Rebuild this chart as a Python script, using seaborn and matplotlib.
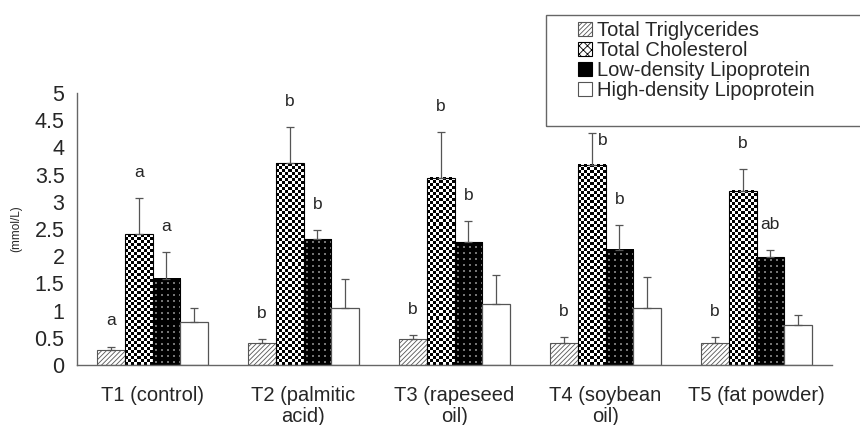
import numpy as np
import pandas as pd
import matplotlib
matplotlib.use("Agg")
import matplotlib.pyplot as plt
import seaborn as sns
from matplotlib.patches import Patch, Rectangle

groups = ["T1 (control)", "T2 (palmitic\nacid)", "T3 (rapeseed\noil)",
          "T4 (soybean\noil)", "T5 (fat powder)"]
components = ["Total Triglycerides", "Total Cholesterol",
              "Low-density Lipoprotein", "High-density Lipoprotein"]

tg_mean = [0.28, 0.41, 0.48, 0.41, 0.41]
tg_sd = [0.06, 0.07, 0.07, 0.11, 0.11]
tc_mean = [2.40, 3.71, 3.44, 3.68, 3.20]
tc_sd = [0.67, 0.66, 0.84, 0.59, 0.40]
ldl_mean = [1.59, 2.31, 2.26, 2.12, 1.98]
ldl_sd = [0.49, 0.17, 0.39, 0.46, 0.14]
hdl_mean = [0.79, 1.05, 1.13, 1.05, 0.74]
hdl_sd = [0.26, 0.54, 0.53, 0.56, 0.18]

tg_letters = ["a", "b", "b", "b", "b"]
tc_letters = ["a", "b", "b", "b", "b"]
ldl_letters = ["a", "b", "b", "b", "ab"]
hdl_letters = ["", "", "", "", ""]

means = [tg_mean, tc_mean, ldl_mean, hdl_mean]
sds = [tg_sd, tc_sd, ldl_sd, hdl_sd]
letters = [tg_letters, tc_letters, ldl_letters, hdl_letters]

rows = []
for comp, m in zip(components, means):
    for g, v in zip(groups, m):
        rows.append({"group": g, "component": comp, "value": v})
df = pd.DataFrame(rows)

sns.set_style("white")
plt.rcParams["font.family"] = ["Liberation Sans", "DejaVu Sans"]
plt.rcParams["hatch.linewidth"] = 0.6

W, H = 860, 425
fig = plt.figure(figsize=(W / 100, H / 100), dpi=100)
ax = fig.add_axes([77 / W, 1 - 365 / H, (832 - 77) / W, (365 - 93) / H])

sns.barplot(data=df, x="group", y="value", hue="component", order=groups,
            hue_order=components, width=0.73, errorbar=None,
            palette=["white", "white", "black", "white"], legend=False, ax=ax)

px_x = (832 - 77) / 5.0   # pixels per category
px_y = (365 - 93) / 5.0   # pixels per mmol/L

bar_conts = list(ax.containers)
for k, cont in enumerate(bar_conts):
    for j, bar in enumerate(cont.patches):
        x0, w, h = bar.get_x(), bar.get_width(), bar.get_height()
        if k == 0:
            bar.set_facecolor("white")
            bar.set_edgecolor("#555555")
            bar.set_hatch("///////")
            bar.set_linewidth(0.8)
        elif k == 1:
            # checkerboard fill
            nx = max(1, int(round(w * px_x / 3)))
            ny = max(1, int(round(h * px_y / 3)))
            ii, jj = np.indices((ny, nx))
            chk = ((ii + jj) % 2).astype(float)
            bar.set_facecolor("none")
            bar.set_edgecolor("black")
            bar.set_linewidth(0.8)
            ax.imshow(chk, extent=(x0, x0 + w, 0, h), origin="lower", cmap="gray",
                      vmin=0, vmax=1, interpolation="nearest", aspect="auto",
                      zorder=0.9, clip_path=bar)
        elif k == 2:
            # black with sparse dots
            nx = max(1, int(round(w * px_x / 2)))
            ny = max(1, int(round(h * px_y / 2)))
            ii, jj = np.indices((ny, nx))
            dots = np.where((ii % 3 == 1) & (jj % 3 == 1), 0.45, 0.0)
            bar.set_facecolor("none")
            bar.set_edgecolor("black")
            bar.set_linewidth(0.8)
            ax.imshow(dots, extent=(x0, x0 + w, 0, h), origin="lower", cmap="gray",
                      vmin=0, vmax=1, interpolation="nearest", aspect="auto",
                      zorder=0.9, clip_path=bar)
        else:
            bar.set_facecolor("white")
            bar.set_edgecolor("#555555")
            bar.set_linewidth(0.9)

        cx = x0 + w / 2
        sd = sds[k][j]
        ax.errorbar(cx, h, yerr=[[0], [sd]], fmt="none", ecolor="#555555",
                    elinewidth=0.9, capsize=3, capthick=0.9, zorder=3)
        lab = letters[k][j]
        if lab:
            ty = h + sd + 0.47
            tx = cx
            if k == 1 and j == 3:
                # sits next to the cap, under the legend box
                ty, tx = 4.12, cx + 0.07
            ax.text(tx, ty, lab, ha="center", va="center", fontsize=12.5)

ax.set_xlim(-0.5, len(groups) - 0.5)
ax.set_ylim(0, 5)

bounds = np.arange(len(groups)) + 0.5
ax.set_xticks(bounds)
ax.set_xticklabels([])
ax.set_xticks(np.arange(len(groups)), minor=True)
ax.set_xticklabels(groups, minor=True, fontsize=14.5, linespacing=1.15)
ax.tick_params(axis="x", which="major", direction="in", length=6, color="#555555")
ax.tick_params(axis="x", which="minor", length=0, pad=15)

yt = np.arange(0, 5.01, 0.5)
ax.set_yticks(yt)
ax.set_yticklabels(["%g" % v for v in yt])
ax.tick_params(axis="y", direction="in", length=5, color="#555555",
               labelsize=15.5, pad=9)

ax.set_xlabel("")
ax.set_ylabel("(mmol/L)", fontsize=8.5)
ax.yaxis.set_label_coords(-0.072, 0.5)

for s in ["top", "right"]:
    ax.spines[s].set_visible(False)
for s in ["left", "bottom"]:
    ax.spines[s].set_color("#666666")
    ax.spines[s].set_linewidth(1)

handles = [
    Patch(facecolor="white", edgecolor="#555555", hatch="///////", linewidth=0.8),
    Patch(facecolor="white", edgecolor="black", hatch="xxxx", linewidth=0.8),
    Patch(facecolor="black", edgecolor="black", linewidth=0.8),
    Patch(facecolor="white", edgecolor="#555555", linewidth=0.8),
]
fig.legend(handles, components, loc="upper left",
           bbox_to_anchor=(578 / W, 1 - 21 / H), frameon=False, fontsize=14.5,
           handlelength=0.7, handleheight=0.7, handletextpad=0.25,
           labelspacing=0.05, borderpad=0, borderaxespad=0)
fig.add_artist(Rectangle((546 / W, 1 - 126 / H), 0.5, (126 - 15) / H,
                         transform=fig.transFigure, fill=False,
                         edgecolor="#666666", linewidth=1))

fig.savefig("out.png", dpi=100)
